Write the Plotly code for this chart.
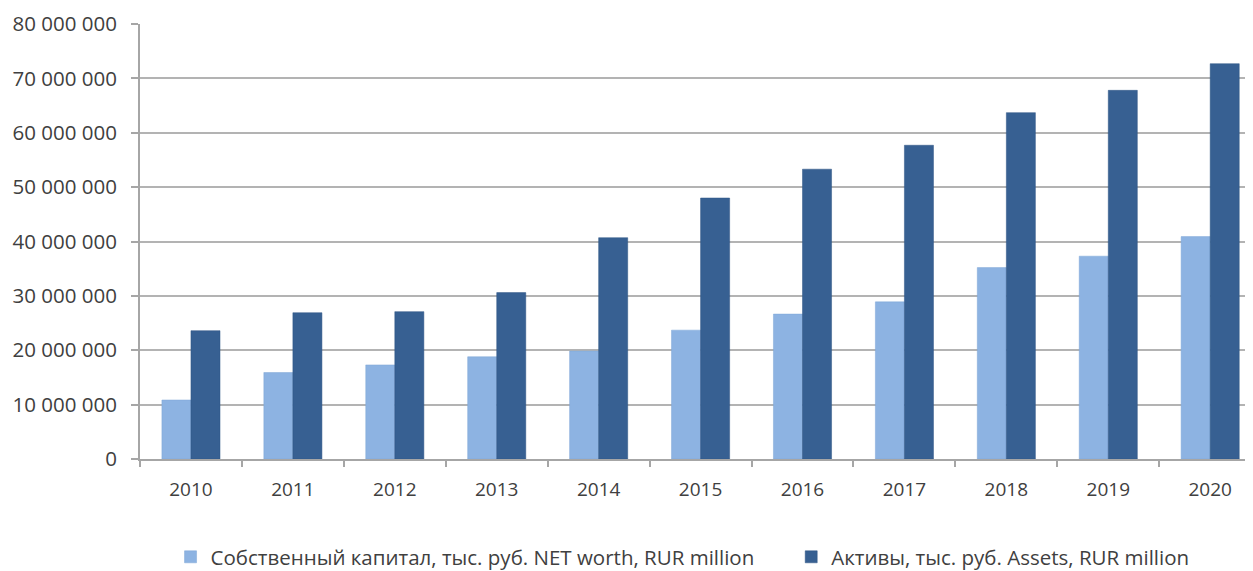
import plotly.graph_objects as go

years = ["2010", "2011", "2012", "2013", "2014", "2015", "2016", "2017", "2018", "2019", "2020"]
net_worth = [10850000, 15900000, 17300000, 18800000, 19850000, 23700000, 26650000, 28900000, 35200000, 37300000, 40900000]
assets = [23600000, 26900000, 27100000, 30600000, 40700000, 48000000, 53300000, 57700000, 63700000, 67800000, 72700000]

name_nw = "Собственный капитал, тыс. руб. NET worth, RUR million"
name_as = "Активы, тыс. руб. Assets, RUR million"

font_fam = "Open Sans, Liberation Sans, sans-serif"

fig = go.Figure()
fig.add_trace(go.Bar(x=years, y=net_worth, name=name_nw + "      ",
                     marker=dict(color="#8DB3E2", line=dict(color="#7FA6D6", width=0.5))))
fig.add_trace(go.Bar(x=years, y=assets, name=name_as,
                     marker=dict(color="#376092", line=dict(color="#2F5584", width=0.5))))

fig.update_layout(
    width=1245, height=563,
    margin=dict(l=132, r=0, t=16, b=112, autoexpand=False),
    paper_bgcolor="white", plot_bgcolor="white",
    barmode="group", bargap=0.43, bargroupgap=0,
    separators=". ",
    font=dict(family=font_fam, color="#404040", size=19),
    showlegend=True,
    legend=dict(orientation="h", xref="container", yref="container",
                x=0.5418, xanchor="center", y=0.0249, yanchor="middle",
                font=dict(size=20.5, color="#404040"), itemwidth=30, tracegroupgap=0,
                traceorder="normal", itemclick=False),
    xaxis=dict(type="category", range=[-0.5, 10.42], showgrid=False, automargin=False,
               showline=True, linecolor="#a6a6a6", linewidth=2,
               ticks="outside", tickson="boundaries", ticklen=6, tickcolor="#a6a6a6", tickwidth=2,
               tickfont=dict(size=19, color="#404040"), ticklabelstandoff=12),
    yaxis=dict(range=[0, 80000000], dtick=10000000, tickformat=",d", automargin=False,
               showgrid=True, gridcolor="#b3b3b3", gridwidth=2,
               showline=True, linecolor="#a6a6a6", linewidth=2,
               ticks="outside", ticklen=7, tickcolor="#a6a6a6", tickwidth=2,
               tickfont=dict(size=20.5, color="#404040"), ticklabelstandoff=10,
               zeroline=False),
)

fig.write_html("out.html")
